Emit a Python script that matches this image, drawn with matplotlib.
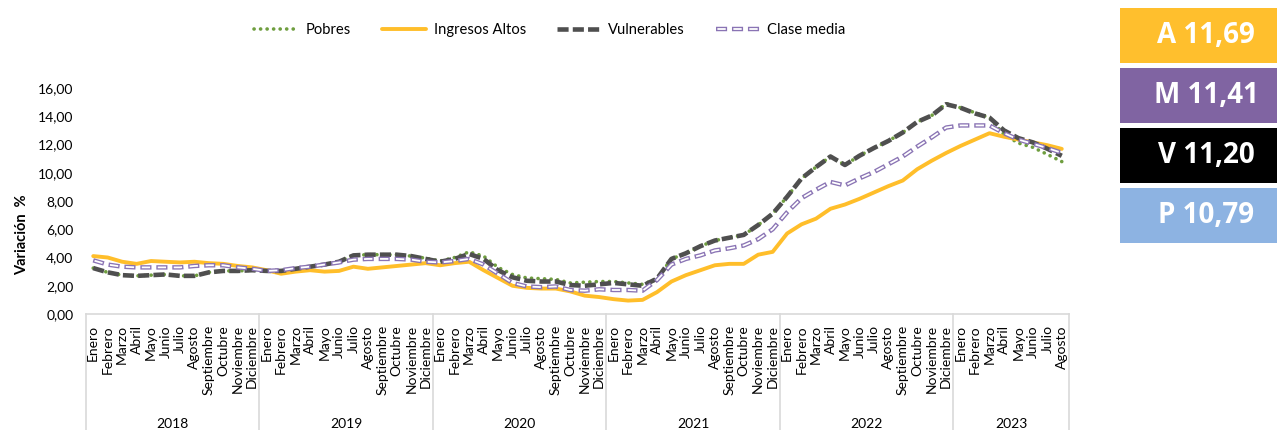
import matplotlib
matplotlib.use("Agg")
import matplotlib.pyplot as plt
from matplotlib.lines import Line2D
from matplotlib.patches import Rectangle
from matplotlib.legend_handler import HandlerTuple
import matplotlib.transforms as mtransforms

plt.rcParams['font.family'] = ['Lato', 'DejaVu Sans']
plt.rcParams['lines.scale_dashes'] = False

# --- datos ---
years = ['2018', '2019', '2020', '2021', '2022', '2023']
months = ['Enero', 'Febrero', 'Marzo', 'Abril', 'Mayo', 'Junio', 'Julio',
          'Agosto', 'Septiembre', 'Octubre', 'Noviembre', 'Diciembre']
months_per_year = [12, 12, 12, 12, 12, 8]

pobres = [3.25, 2.95, 2.75, 2.70, 2.75, 2.80, 2.70, 2.70, 2.95, 3.05, 3.05, 3.10,
          3.05, 3.05, 3.20, 3.35, 3.50, 3.70, 4.15, 4.20, 4.20, 4.20, 4.10, 3.95,
          3.75, 4.00, 4.40, 4.10, 3.30, 2.80, 2.55, 2.50, 2.45, 2.20, 2.25, 2.30,
          2.30, 2.20, 2.10, 2.50, 3.90, 4.30, 4.80, 5.20, 5.40, 5.60, 6.30, 7.10,
          8.30, 9.60, 10.40, 11.15, 10.55, 11.20, 11.75, 12.25, 12.85, 13.60, 14.05, 14.90,
          14.60, 14.25, 13.90, 12.70, 12.10, 11.80, 11.30, 10.79]

ingresos_altos = [4.10, 4.00, 3.70, 3.55, 3.75, 3.70, 3.65, 3.70, 3.60, 3.55, 3.40, 3.30,
                  3.10, 2.85, 3.00, 3.10, 3.00, 3.05, 3.35, 3.20, 3.30, 3.40, 3.50, 3.60,
                  3.45, 3.60, 3.70, 3.10, 2.55, 2.00, 1.85, 1.80, 1.80, 1.60, 1.30, 1.20,
                  1.05, 0.95, 1.00, 1.55, 2.30, 2.75, 3.10, 3.45, 3.55, 3.55, 4.20, 4.40,
                  5.70, 6.35, 6.75, 7.45, 7.75, 8.15, 8.60, 9.05, 9.45, 10.25, 10.85, 11.40,
                  11.90, 12.35, 12.80, 12.55, 12.35, 12.15, 11.95, 11.69]

vulnerables = [3.25, 2.95, 2.75, 2.70, 2.75, 2.80, 2.70, 2.70, 2.95, 3.05, 3.05, 3.10,
               3.05, 3.05, 3.20, 3.35, 3.50, 3.70, 4.15, 4.20, 4.20, 4.20, 4.10, 3.90,
               3.70, 3.90, 4.25, 3.90, 3.10, 2.60, 2.35, 2.30, 2.30, 2.05, 2.00, 2.10,
               2.20, 2.10, 2.00, 2.50, 3.90, 4.30, 4.80, 5.20, 5.40, 5.60, 6.30, 7.10,
               8.30, 9.60, 10.40, 11.15, 10.55, 11.20, 11.75, 12.25, 12.85, 13.60, 14.05, 14.85,
               14.60, 14.20, 13.90, 13.00, 12.45, 12.15, 11.70, 11.20]

clase_media = [3.80, 3.50, 3.35, 3.30, 3.30, 3.30, 3.30, 3.40, 3.45, 3.45, 3.30, 3.20,
               3.05, 3.10, 3.25, 3.35, 3.50, 3.65, 3.85, 3.90, 3.90, 3.90, 3.85, 3.70,
               3.65, 3.75, 3.90, 3.50, 2.85, 2.20, 1.95, 1.90, 1.95, 1.70, 1.65, 1.75,
               1.70, 1.70, 1.65, 2.40, 3.50, 3.90, 4.15, 4.50, 4.65, 4.85, 5.30, 6.00,
               7.20, 8.20, 8.80, 9.35, 9.10, 9.60, 10.05, 10.60, 11.15, 11.85, 12.50, 13.20,
               13.35, 13.35, 13.35, 12.80, 12.35, 12.05, 11.75, 11.41]

month_labels = [m for n in months_per_year for m in months[:n]]
x = list(range(len(month_labels)))

c_green = '#6f9e3f'
c_gold = '#FFBE2A'
c_gray = '#4f4f4f'
c_purple = '#8a74b4'

fig = plt.figure(figsize=(12.77, 4.30), dpi=100)
ax = fig.add_axes([86 / 1277, 1 - 314 / 430, (1069 - 86) / 1277, (314 - 88) / 430])

l_pob, = ax.plot(x, pobres, color=c_green, lw=2.6, linestyle=(0, (0.1, 4.6)),
                 dash_capstyle='round', label='Pobres', zorder=2)
l_alt, = ax.plot(x, ingresos_altos, color=c_gold, lw=2.8, label='Ingresos Altos',
                 solid_capstyle='round', zorder=3)
l_vul, = ax.plot(x, vulnerables, color=c_gray, lw=3.3, linestyle=(0, (8, 3)),
                 label='Vulnerables', zorder=4)
# clase media: trazo discontinuo "hueco" (borde morado, relleno blanco)
l_cm_out, = ax.plot(x, clase_media, color=c_purple, lw=3.2, linestyle=(0, (8, 3.5)),
                    zorder=5)
l_cm_in, = ax.plot(x, clase_media, color='white', lw=1.3, linestyle=(10.5, (6, 5.5)),
                   zorder=6)

ax.set_xlim(-0.5, len(x) - 0.5)
ax.set_ylim(0, 16)
ax.set_yticks(range(0, 17, 2))
ax.set_yticklabels([f"{v:.2f}".replace('.', ',') for v in range(0, 17, 2)], fontsize=10)
ax.set_xticks(x)
ax.set_xticklabels(month_labels, rotation=90, fontsize=10, va='top')
ax.tick_params(axis='both', length=0)
ax.tick_params(axis='y', pad=9)
ax.tick_params(axis='x', pad=8)

for side in ['top', 'right', 'left']:
    ax.spines[side].set_visible(False)
ax.spines['bottom'].set_color('#d9d9d9')
ax.spines['bottom'].set_linewidth(1.2)

ax.set_ylabel('Variación  %', fontsize=10.5, fontweight='bold')
ax.yaxis.set_label_coords(-0.058, 0.35)

# eje de años
trans = mtransforms.blended_transform_factory(ax.transData, ax.transAxes)
start = -0.5
for yr, n in zip(years, months_per_year):
    ax.add_line(Line2D([start, start], [0, -0.53], transform=trans, color='#d9d9d9',
                       lw=1.2, clip_on=False))
    ax.text(start + n / 2, -0.485, yr, transform=trans, ha='center', va='center',
            fontsize=10)
    start += n
ax.add_line(Line2D([start, start], [0, -0.53], transform=trans, color='#d9d9d9',
                   lw=1.2, clip_on=False))

fig.legend([l_pob, l_alt, l_vul, (l_cm_out, l_cm_in)],
           ['Pobres', 'Ingresos Altos', 'Vulnerables', 'Clase media'],
           handler_map={tuple: HandlerTuple(ndivide=1, pad=0)},
           loc='center', bbox_to_anchor=(550 / 1277, 1 - 30 / 430), ncol=4,
           frameon=False, fontsize=10.6, handlelength=3.0, handletextpad=0.5,
           columnspacing=2.1)

# recuadros de valores finales
boxes = [('A', ingresos_altos[-1], '#FFBF2D', 8),
         ('M', clase_media[-1], '#8064A2', 68),
         ('V', vulnerables[-1], '#000000', 128),
         ('P', pobres[-1], '#8DB3E2', 188)]
for letra, val, col, top in boxes:
    h = 55
    fig.add_artist(Rectangle((1120 / 1277, 1 - (top + h) / 430), 157 / 1277, h / 430,
                             transform=fig.transFigure, facecolor=col, edgecolor='none'))
    fig.text(1206 / 1277, 1 - (top + h / 2) / 430, f"{letra} {val:.2f}".replace('.', ','),
             ha='center', va='center', color='white', fontsize=20, fontweight='bold',
             family=['Open Sans', 'DejaVu Sans'])

fig.savefig('out.png', dpi=100)
